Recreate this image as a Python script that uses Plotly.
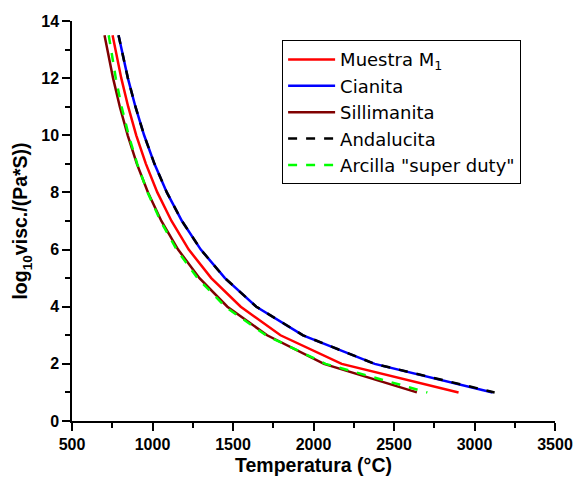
import plotly.graph_objects as go

# log10 viscosity levels (common to all series)
log_visc = [13.5, 12, 11, 10, 9, 8, 7, 6, 5, 4, 3, 2, 1]

# Temperatures (°C) for each material
t_muestra = [752, 806, 849, 899, 959, 1030, 1118, 1225, 1365, 1548, 1795, 2175, 2901]
t_cianita = [789, 847, 894, 948, 1012, 1089, 1183, 1300, 1450, 1645, 1935, 2380, 3112]
t_sillimanita = [702, 755, 797, 846, 903, 972, 1055, 1159, 1292, 1465, 1712, 2065, 2642]
t_andalucita = [789, 847, 894, 948, 1012, 1089, 1183, 1300, 1450, 1645, 1935, 2380, 3125]
t_arcilla = [728, 772, 808, 852, 905, 970, 1050, 1150, 1280, 1452, 1705, 2075, 2707]

series = [
    ("Muestra M<sub>1</sub>", t_muestra, "#ff0000", "solid"),
    ("Cianita", t_cianita, "#0000ff", "solid"),
    ("Sillimanita", t_sillimanita, "#800000", "solid"),
    ("Andalucita", t_andalucita, "#000000", "dash"),
    ("Arcilla \"super duty\"", t_arcilla, "#00ff00", "dash"),
]

FONT = "Arial, Liberation Sans, sans-serif"
LEGEND_FONT = "DejaVu Sans, Arial, sans-serif"

fig = go.Figure()
for name, temps, color, dash in series:
    fig.add_trace(go.Scatter(
        x=temps, y=log_visc, mode="lines", name=name,
        line=dict(color=color, width=2.5, dash=dash),
    ))

axis_common = dict(
    showline=True, linecolor="black", linewidth=1.5,
    ticks="outside", ticklen=8, tickwidth=1.5, tickcolor="black",
    showgrid=False, zeroline=False, mirror=False,
    tickfont=dict(family=FONT, size=16, color="black", weight="bold"),
)

fig.update_xaxes(
    range=[500, 3500], tick0=500, dtick=500,
    minor=dict(dtick=250, ticks="outside", ticklen=5, tickwidth=1.5, tickcolor="black"),
    title=dict(text="Temperatura (°C)", font=dict(family=FONT, size=19.5, color="black", weight="bold"), standoff=6),
    **axis_common,
)
fig.update_yaxes(
    range=[0, 14], tick0=0, dtick=2,
    minor=dict(dtick=1, ticks="outside", ticklen=5, tickwidth=1.5, tickcolor="black"),
    title=dict(text="log<sub>10</sub>visc./(Pa*S))", font=dict(family=FONT, size=19.5, color="black", weight="bold"), standoff=8),
    **axis_common,
)

fig.update_layout(
    width=585, height=485,
    margin=dict(l=72, r=21, t=21, b=63),
    plot_bgcolor="white", paper_bgcolor="white",
    showlegend=True,
    legend=dict(
        x=0.435, y=0.952, xanchor="left", yanchor="top",
        bgcolor="white", bordercolor="black", borderwidth=1,
        font=dict(family=LEGEND_FONT, size=18, color="black"),
        traceorder="normal", itemwidth=47,
    ),
)

fig.write_html("out.html")
